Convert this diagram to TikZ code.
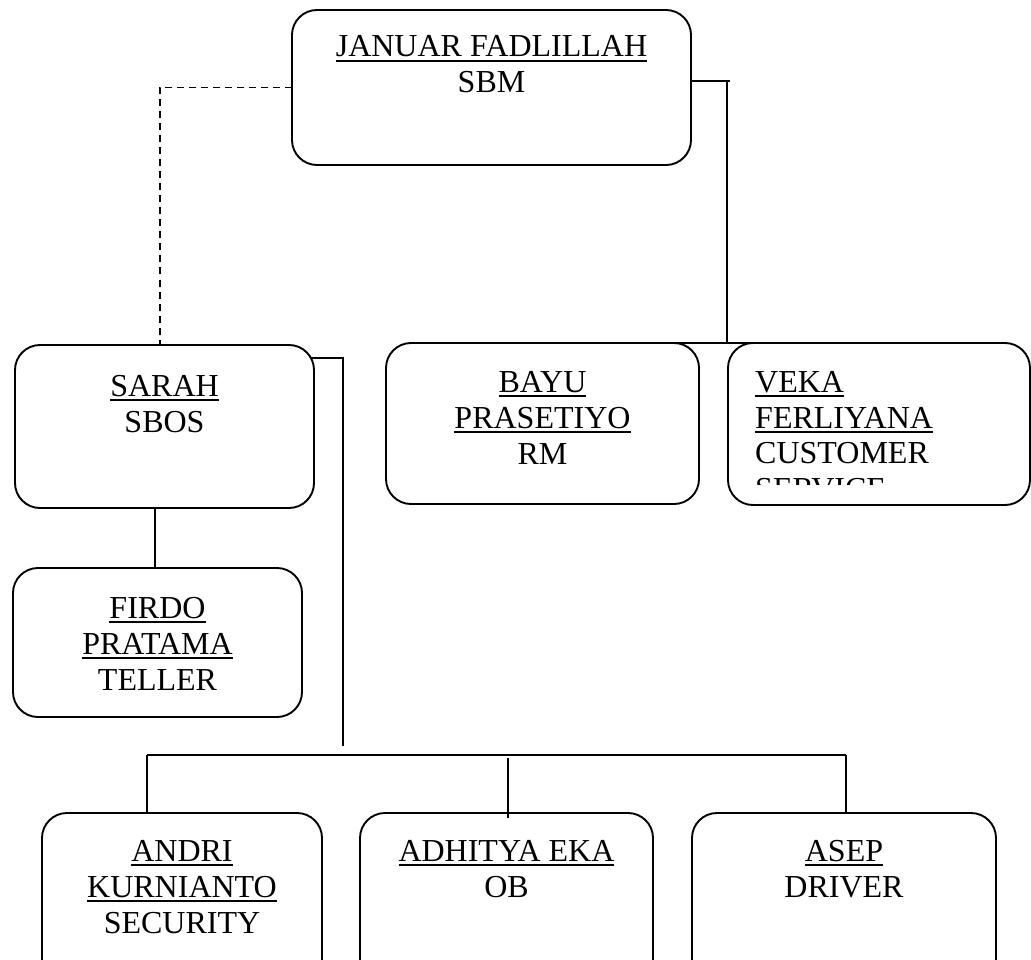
\documentclass[tikz,border=0pt]{standalone}
\usepackage{fontspec}
\setmainfont{Liberation Serif}
\usetikzlibrary{calc}
\newcommand\ulname[1]{\setbox0\hbox{#1}\rlap{\rule[-5pt]{\wd0}{1.8pt}}\box0}
\begin{document}
\begin{tikzpicture}[x=1pt,y=-1pt,
  box/.style={draw,line width=1.9pt,rounded corners=25pt,inner sep=0pt,outer sep=0pt},
  lbl/.style={anchor=base,inner sep=0pt,font=\fontsize{32}{36}\selectfont},
  lbll/.style={lbl,anchor=base west},
  conn/.style={line width=1.9pt},
  dconn/.style={line width=1.9pt,dash pattern=on 7pt off 5pt}]
\useasboundingbox (0,0) rectangle (1031,960);
\clip (0,0) rectangle (1031,960);

% boxes
\node[box,minimum width=399pt,minimum height=155pt] (januar) at (491.5,87.5) {};
\node[box,minimum width=299pt,minimum height=163pt] (sarah) at (164.5,426.5) {};
\node[box,minimum width=313pt,minimum height=161pt] (bayu) at (542.5,423.5) {};
\node[box,minimum width=302pt,minimum height=162pt] (veka) at (879,424) {};
\node[box,minimum width=289pt,minimum height=149pt] (firdo) at (157.5,642.5) {};
\node[box,minimum width=280pt,minimum height=187pt] (andri) at (182,906.5) {};
\node[box,minimum width=293pt,minimum height=187pt] (adhitya) at (506.5,906.5) {};
\node[box,minimum width=304pt,minimum height=187pt] (asep) at (844,906.5) {};

% texts
\node[lbl] (januarA) at (491.5,57) {\ulname{JANUAR FADLILLAH}};
\node[lbl] (januarB) at (491.5,93) {SBM};

\node[lbl] (sarahA) at (164.5,396) {\ulname{SARAH}};
\node[lbl] (sarahB) at (164.5,432) {SBOS};

\node[lbl] (bayuA) at (542.5,392) {\ulname{BAYU}};
\node[lbl] (bayuB) at (542.5,428) {\ulname{PRASETIYO}};
\node[lbl] (bayuC) at (542.5,464) {RM};

\node[lbll] (vekaA) at (755,392) {\ulname{VEKA}};
\node[lbll] (vekaB) at (755,428) {\ulname{FERLIYANA}};
\node[lbll] (vekaC) at (755,463) {CUSTOMER};
\begin{scope}
\clip (728,343) rectangle (1030,484);
\node[lbll] (vekaD) at (755,499) {SERVICE};
\end{scope}

\node[lbl] (firdoA) at (157.5,618) {\ulname{FIRDO}};
\node[lbl] (firdoB) at (157.5,654) {\ulname{PRATAMA}};
\node[lbl] (firdoC) at (157.5,690) {TELLER};

\node[lbl] (andriA) at (182,861) {\ulname{ANDRI}};
\node[lbl] (andriB) at (182,897) {\ulname{KURNIANTO}};
\node[lbl] (andriC) at (182,933) {SECURITY};

\node[lbl] (adhityaA) at (506.5,861) {\ulname{ADHITYA EKA}};
\node[lbl] (adhityaB) at (506.5,897) {OB};

\node[lbl] (asepA) at (844,861) {\ulname{ASEP}};
\node[lbl] (asepB) at (844,897) {DRIVER};

% connectors
\coordinate (jr) at (730,81);
\coordinate (jrv) at (727,81);
\draw[conn] (januar.east |- jr) -- (jr);
\draw[conn] (jrv) -- (jrv |- bayu.north);
\draw[conn] (bayu.north) -- (veka.north);

\coordinate (sd) at (160,0);
\draw[dconn] (januar.west) -| (sd |- sarah.north);

\coordinate (sr) at (311,358);
\coordinate (sv) at (343,746);
\draw[conn] (sr) -| (sv);

\coordinate (sf) at (155,0);
\draw[conn] (sf |- sarah.south) -- (sf |- firdo.north);

\coordinate (bl) at (147,755);
\coordinate (br) at (846,755);
\coordinate (bm) at (508,758);
\draw[conn] (bl) -- (br);
\draw[conn] (bl) -- (bl |- andri.north);
\draw[conn] (br) -- (br |- asep.north);
\draw[conn] (bm) -- ($(bm |- adhitya.north)+(0,5)$);
\end{tikzpicture}
\end{document}
